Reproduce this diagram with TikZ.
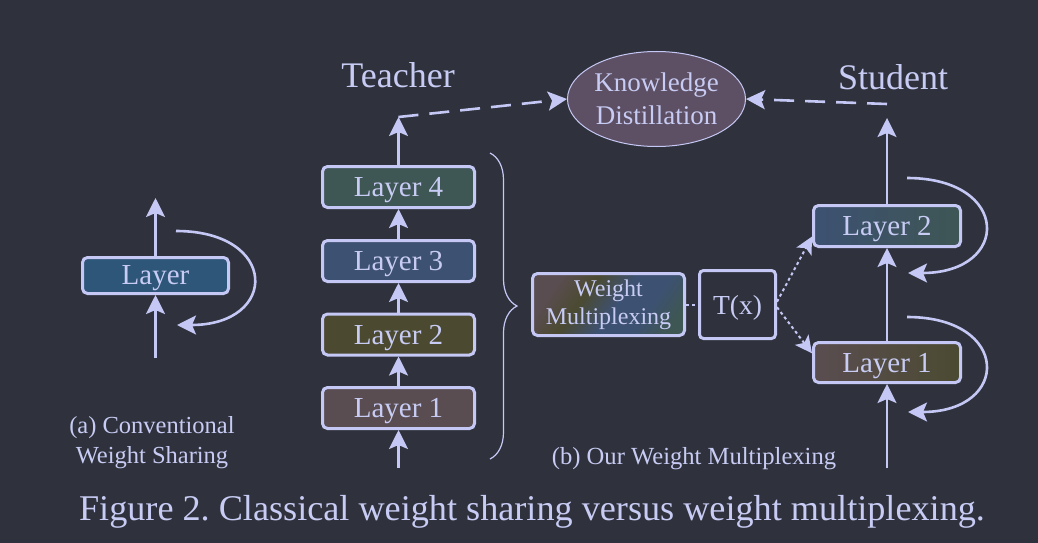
\documentclass[tikz,border=0pt]{standalone}
\usepackage{fontspec}
\setmainfont{Liberation Serif}
\usetikzlibrary{arrows.meta,decorations.pathreplacing,shapes.geometric}
\frenchspacing
\definecolor{bg}{HTML}{2F323C}
\definecolor{ln}{HTML}{C5C8F5}
\definecolor{tx}{HTML}{C8CCF4}
\definecolor{cBlue}{HTML}{2E5678}
\definecolor{cTeal}{HTML}{3E5654}
\definecolor{cSlate}{HTML}{3D5172}
\definecolor{cOlive}{HTML}{4B4A31}
\definecolor{cMauve}{HTML}{5A4D51}
\definecolor{cEll}{HTML}{5E5064}
\pgfdeclarehorizontalshading{wmshade}{100bp}{color(0bp)=(cMauve); color(26bp)=(cMauve); color(39bp)=(cOlive); color(53bp)=(cSlate); color(65bp)=(cSlate); color(77bp)=(cTeal); color(100bp)=(cTeal)}
\begin{document}
\begin{tikzpicture}[x=1pt,y=-1pt,
  box/.style={draw=ln, line width=3pt, rounded corners=5pt, text=tx, font=\fontsize{29}{32}\selectfont, inner sep=0pt},
  one/.style={text depth=0pt},
  arr/.style={draw=ln, line width=2.6pt, -{Stealth[length=19pt,width=19pt,inset=4pt]}},
  darr/.style={arr, dash pattern=on 20pt off 11pt},
  dotarr/.style={draw=ln, line width=2pt, dash pattern=on 3pt off 3pt, -{Stealth[length=17pt,width=17pt,inset=4pt]}},
  lbl/.style={text=tx, inner sep=0pt}]
\fill[bg] (0,0) rectangle (1038,543);
\useasboundingbox (0,0) rectangle (1038,543);

% (a) conventional weight sharing
\node[box, one, fill=cBlue, minimum width=146pt, minimum height=36pt] (Lay) at (155.5,275.5) {Layer};
\coordinate (lin) at (155.5,358);
\coordinate (lout) at (155.5,198);
\draw[arr] (lin) -- (Lay);
\draw[arr] (Lay) -- (lout);
\coordinate (la) at (176,231);
\coordinate (lb) at (177,325);
\draw[arr] (la) .. controls (279,231) and (279,325) .. (lb);
\node[lbl, align=center, font=\fontsize{24.5}{30}\selectfont] (capa) at (152,443) {(a) Conventional\\Weight Sharing};

% Teacher
\node[lbl, font=\fontsize{36}{40}\selectfont] (teach) at (398,75) {Teacher};
\node[box, one, fill=cMauve, minimum width=152pt, minimum height=41pt] (T1) at (398.5,408) {Layer 1};
\node[box, one, fill=cOlive, minimum width=152pt, minimum height=41pt] (T2) at (398.5,334.5) {Layer 2};
\node[box, one, fill=cSlate, minimum width=152pt, minimum height=41pt] (T3) at (398.5,261) {Layer 3};
\node[box, one, fill=cTeal, minimum width=152pt, minimum height=41pt] (T4) at (398.5,187) {Layer 4};
\coordinate (tin) at (398.5,468);
\coordinate (tout) at (398.5,117);
\draw[arr] (tin) -- (T1);
\draw[arr] (T1) -- (T2);
\draw[arr] (T2) -- (T3);
\draw[arr] (T3) -- (T4);
\draw[arr] (T4) -- (tout);

% brace
\coordinate (bra) at (490,153);
\coordinate (brb) at (490,459);
\draw[ln, line width=1.2pt, decorate, decoration={brace, amplitude=27pt}] (bra) -- (brb);

% knowledge distillation
\node[ellipse, draw=ln, line width=1pt, fill=cEll, minimum width=178pt, minimum height=95pt, inner sep=0pt, text=tx, align=center, font=\fontsize{27}{33}\selectfont] (KD) at (656.5,99) {Knowledge\\Distillation};
\draw[darr] (tout) -- (KD.west);
\coordinate (sdash) at (887,104);
\draw[darr] (sdash) -- (KD.east);

% Student
\node[lbl, font=\fontsize{36}{40}\selectfont] (stud) at (893,77) {Student};
\node[box, one, left color=cMauve, right color=cOlive, minimum width=147pt, minimum height=40pt] (S1) at (887,362.5) {Layer 1};
\node[box, one, left color=cSlate, right color=cTeal, minimum width=147pt, minimum height=41pt] (S2) at (887,226) {Layer 2};
\coordinate (sin) at (887,468);
\coordinate (sout) at (887,118);
\draw[arr] (sin) -- (S1);
\draw[arr] (S1) -- (S2);
\draw[arr] (S2) -- (sout);
\coordinate (ua) at (907,178);
\coordinate (ub) at (908,273);
\draw[arr] (ua) .. controls (1011,178) and (1011,273) .. (ub);
\coordinate (wa) at (907,317);
\coordinate (wb) at (908,412);
\draw[arr] (wa) .. controls (1011,317) and (1011,412) .. (wb);

% weight multiplexing
\node[box, shading=wmshade, shading angle=-35, minimum width=152pt, minimum height=62pt, align=center, font=\fontsize{24}{28}\selectfont] (WM) at (608.5,304.5) {Weight\\Multiplexing};
\node[box, one, fill=bg, rounded corners=4pt, minimum width=76pt, minimum height=68pt, font=\fontsize{27.5}{30}\selectfont] (Tx) at (737.5,304.5) {T(x)};
\draw[ln, line width=2pt, dash pattern=on 3pt off 3pt] (WM) -- (Tx);
\draw[dotarr] (Tx.4) -- (S2.188);
\draw[dotarr] (Tx.-4) -- (S1.173);
\node[lbl, font=\fontsize{24.6}{28}\selectfont] (capb) at (694,459) {(b) Our Weight Multiplexing};

% caption
\node[lbl, font=\fontsize{36.2}{40}\selectfont] (cap) at (532,512) {Figure 2. Classical weight sharing versus weight multiplexing.};
\end{tikzpicture}
\end{document}
